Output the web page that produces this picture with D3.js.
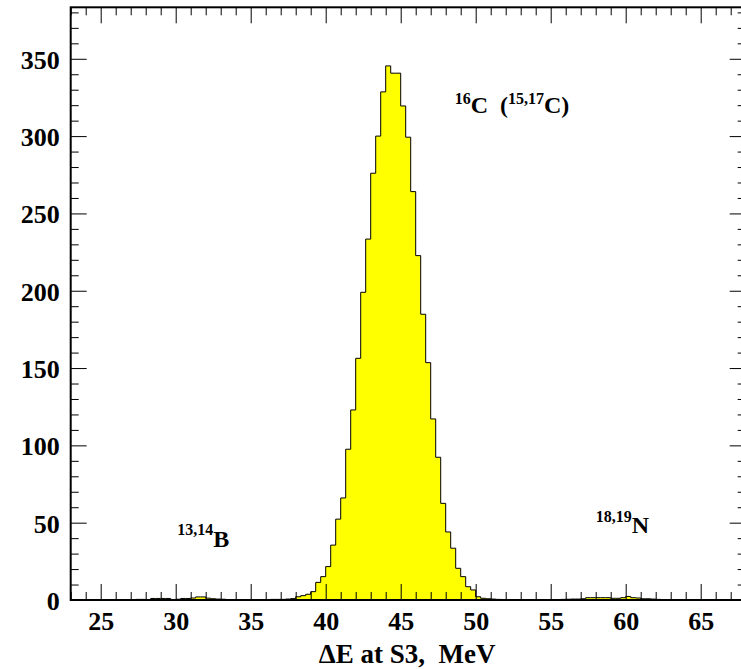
<!DOCTYPE html>
<html lang="en">
<head>
    <meta charset="UTF-8">
    <title>dE at S3 histogram</title>
    <script src="https://d3js.org/d3.v7.min.js"></script>
    <style>
        body { margin: 0; background: #fff; }
        svg text { font-family: "Liberation Serif", "Times New Roman", serif; font-weight: bold; fill: #000; }
        .axis path { display: none; }
        .axis line { stroke: #000; stroke-width: 1; }
    </style>
</head>
<body>
    <svg id="chart" width="741" height="669"></svg>

    <script>
        // histogram: bin width 1/3 MeV, first bin starts at 27 MeV
        const binStart = 27;
        const binWidth = 1 / 3;
        const counts = [
            0, 0.4, 0.4, 0, 1, 1, 1, 1, 0, 0.5, 1, 1,            // 27 - 31
            1.3, 2, 2, 1.2, 0.8, 0.6, 0.5, 0, 0.3, 0, 0.3, 0,    // 31 - 35
            0, 0.3, 0, 0, 0.4, 0.4, 0.4, 0.6, 0.9, 2.1, 2.8, 3.7, // 35 - 39
            5.4, 11.4, 15.1, 21.6, 35.5, 52.3, 66, 97.5, 122.9,   // 39 - 42
            156.3, 199, 233.4, 276, 300, 328.6, 345.4, 340.7, 340.7, // 42 - 45
            319.5, 299.3, 264.1, 222.7, 184.8, 153.5, 117.1, 92.3, 62.5, // 45 - 48
            44, 33.5, 20.5, 15.1, 8.6, 6.5, 2.1, 1.1, 0.8,        // 48 - 51
            0.6, 0.4, 0, 0.3, 0, 0, 0.3, 0, 0, 0.3, 0, 0,         // 51 - 55
            0.3, 0, 0.4, 0.5, 0.6, 0.6, 0.8, 1.5, 1.5, 1.5, 1.5, 1.5, // 55 - 59
            1.1, 1.1, 1.5, 2.3, 1.5, 1.3, 0.8, 0.8, 0.6, 0.4, 0.3, 0.3 // 59 - 63
        ];

        const xMajor = [25, 30, 35, 40, 45, 50, 55, 60, 65];
        const yMajor = [0, 50, 100, 150, 200, 250, 300, 350];
        const xTitle = "ΔE at S3,\u00a0 MeV";

        // isotope labels: superscript, symbol, position in data units
        const labels = [
            { sup: "16", sym: "C", x: 48.6, y: 314.7, extra: true },
            { sup: "13,14", sym: "B", x: 30.1, y: 34.5 },
            { sup: "18,19", sym: "N", x: 58.0, y: 43.1 }
        ];

        const svg = d3.select("#chart");

        const x = d3.scaleLinear().domain([23, 68]).range([70.7, 745.7]);
        const y = d3.scaleLinear().domain([0, 383.3]).range([600, 7.3]);

        // histogram fill + outline
        const pts = counts.map((c, i) => [binStart + i * binWidth, c]);
        pts.push([binStart + counts.length * binWidth, counts[counts.length - 1]]);

        const area = d3.area()
            .x(d => x(d[0]))
            .y0(y(0))
            .y1(d => y(d[1]))
            .curve(d3.curveStepAfter);

        svg.append("path")
            .datum(pts)
            .attr("d", area)
            .attr("fill", "#ffff00")
            .attr("stroke", "#000")
            .attr("stroke-width", 1);

        const xMinor = d3.range(23, 69, 1).filter(v => v % 5 !== 0);
        const yMinor = d3.range(0, 384, 10).filter(v => v % 50 !== 0);

        // bottom
        const gb = svg.append("g").attr("class", "axis")
            .attr("transform", `translate(0,${y(0)})`);
        gb.call(d3.axisBottom(x).tickValues(xMajor).tickSize(-16).tickFormat(d3.format("d")));
        gb.selectAll("text").attr("y", 30).attr("dy", null).style("font-size", "26px");
        svg.append("g").attr("class", "axis")
            .attr("transform", `translate(0,${y(0)})`)
            .call(d3.axisBottom(x).tickValues(xMinor).tickSize(-8).tickFormat(""));

        // top
        svg.append("g").attr("class", "axis")
            .attr("transform", `translate(0,${y.range()[1]})`)
            .call(d3.axisTop(x).tickValues(xMajor).tickSize(-16).tickFormat(""));
        svg.append("g").attr("class", "axis")
            .attr("transform", `translate(0,${y.range()[1]})`)
            .call(d3.axisTop(x).tickValues(xMinor).tickSize(-8).tickFormat(""));

        // left
        const gl = svg.append("g").attr("class", "axis")
            .attr("transform", `translate(${x.range()[0]},0)`);
        gl.call(d3.axisLeft(y).tickValues(yMajor).tickSize(-16).tickPadding(11));
        gl.selectAll("text").attr("dy", "0.36em").style("font-size", "26px");
        svg.append("g").attr("class", "axis")
            .attr("transform", `translate(${x.range()[0]},0)`)
            .call(d3.axisLeft(y).tickValues(yMinor).tickSize(-8).tickFormat(""));

        // right
        svg.append("g").attr("class", "axis")
            .attr("transform", `translate(${x.range()[1]},0)`)
            .call(d3.axisRight(y).tickValues(yMajor).tickSize(-16).tickFormat(""));
        svg.append("g").attr("class", "axis")
            .attr("transform", `translate(${x.range()[1]},0)`)
            .call(d3.axisRight(y).tickValues(yMinor).tickSize(-8).tickFormat(""));

        // frame
        svg.append("rect")
            .attr("x", x.range()[0]).attr("y", y.range()[1])
            .attr("width", x.range()[1] - x.range()[0])
            .attr("height", y(0) - y.range()[1])
            .attr("fill", "none")
            .attr("stroke", "#000")
            .attr("stroke-width", 2);

        // axis title
        svg.append("text")
            .attr("x", (x.range()[0] + x.range()[1]) / 2 - 1)
            .attr("y", 663)
            .attr("text-anchor", "middle")
            .style("font-size", "27px")
            .text(xTitle);

        // isotope labels
        labels.forEach(l => {
            const t = svg.append("text")
                .attr("x", x(l.x))
                .attr("y", y(l.y))
                .style("font-size", "24px");
            const up = l.extra ? 9 : 11.5;
            t.append("tspan").attr("dy", -up).style("font-size", "16px").text(l.sup);
            t.append("tspan").attr("dy", up).text(l.sym);
            if (l.extra) {
                t.append("tspan").text("\u00a0\u00a0(");
                t.append("tspan").attr("dy", -up).style("font-size", "16px").text("15,17");
                t.append("tspan").attr("dy", up).text("C)");
            }
        });
    </script>
</body>
</html>
